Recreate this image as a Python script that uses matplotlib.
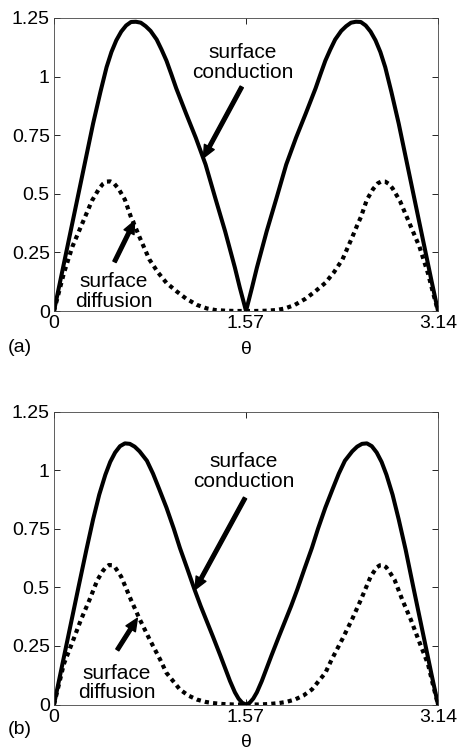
import numpy as np
import matplotlib
matplotlib.use("Agg")
import matplotlib.pyplot as plt

plt.rcParams['font.family'] = ['Liberation Sans', 'DejaVu Sans']

# === Data ===
# panel (a)
theta_cond_a = [0.00, 0.05, 0.10, 0.15, 0.20, 0.26, 0.32, 0.38, 0.43, 0.47, 0.51, 0.55, 0.59,
                0.63, 0.67, 0.71, 0.75, 0.79, 0.84, 0.88, 0.92, 0.96, 1.00, 1.08, 1.16, 1.24,
                1.32, 1.40, 1.48, 1.52, 1.571,
                1.62, 1.66, 1.74, 1.82, 1.90, 1.98, 2.06, 2.14, 2.18, 2.22, 2.26, 2.30, 2.35,
                2.39, 2.43, 2.47, 2.51, 2.55, 2.59, 2.63, 2.67, 2.71, 2.76, 2.82, 2.88, 2.94,
                2.99, 3.04, 3.09, 3.1416]
cond_a = [0, 0.125, 0.25, 0.375, 0.50, 0.65, 0.80, 0.935, 1.04, 1.105, 1.155, 1.192, 1.218,
          1.233, 1.234, 1.23, 1.215, 1.195, 1.158, 1.115, 1.068, 1.01, 0.95, 0.843, 0.739, 0.625,
          0.481, 0.34, 0.185, 0.10, 0,
          0.10, 0.185, 0.34, 0.481, 0.625, 0.739, 0.843, 0.95, 1.01, 1.068, 1.115, 1.158, 1.195,
          1.215, 1.23, 1.234, 1.233, 1.218, 1.192, 1.155, 1.105, 1.04, 0.935, 0.80, 0.65, 0.50,
          0.375, 0.25, 0.125, 0]

theta_diff_a = [0.00, 0.04, 0.08, 0.15, 0.23, 0.31, 0.37, 0.40, 0.43, 0.46, 0.49, 0.53, 0.58,
                0.63, 0.66, 0.70, 0.78, 0.85, 0.92, 1.00, 1.08, 1.17, 1.25, 1.32, 1.41, 1.50, 1.571,
                1.64, 1.73, 1.82, 1.89, 1.97, 2.06, 2.14, 2.22, 2.29, 2.36, 2.44, 2.48, 2.51,
                2.56, 2.61, 2.65, 2.68, 2.71, 2.74, 2.77, 2.83, 2.91, 2.99, 3.06, 3.10, 3.1416]
diff_a = [0, 0.08, 0.16, 0.274, 0.372, 0.47, 0.523, 0.542, 0.552, 0.553, 0.545, 0.52, 0.475,
          0.40, 0.365, 0.315, 0.22, 0.165, 0.12, 0.085, 0.053, 0.026, 0.011, 0.004, 0.001, 0, 0,
          0, 0.001, 0.004, 0.011, 0.026, 0.053, 0.085, 0.12, 0.165, 0.22, 0.315, 0.365, 0.40,
          0.475, 0.52, 0.545, 0.553, 0.552, 0.542, 0.523, 0.47, 0.372, 0.274, 0.16, 0.08, 0]

# panel (b)
theta_cond_b = [0.00, 0.05, 0.10, 0.15, 0.20, 0.265, 0.32, 0.37, 0.42, 0.46, 0.50, 0.54, 0.58,
                0.62, 0.66, 0.70, 0.76, 0.81, 0.86, 0.92, 0.98, 1.03, 1.09, 1.15, 1.20, 1.25,
                1.30, 1.36, 1.40, 1.44, 1.48, 1.51, 1.54, 1.571,
                1.60, 1.63, 1.66, 1.70, 1.74, 1.78, 1.84, 1.89, 1.94, 1.99, 2.05, 2.11, 2.16,
                2.22, 2.28, 2.33, 2.38, 2.44, 2.48, 2.52, 2.56, 2.60, 2.64, 2.68, 2.72, 2.77,
                2.82, 2.877, 2.94, 2.99, 3.04, 3.09, 3.1416]
cond_b = [0, 0.125, 0.25, 0.375, 0.50, 0.66, 0.79, 0.895, 0.98, 1.035, 1.075, 1.102, 1.114,
          1.112, 1.10, 1.08, 1.04, 0.985, 0.92, 0.84, 0.75, 0.668, 0.58, 0.49, 0.42, 0.355,
          0.29, 0.21, 0.155, 0.10, 0.052, 0.025, 0.007, 0,
          0.007, 0.025, 0.052, 0.10, 0.155, 0.21, 0.29, 0.355, 0.42, 0.49, 0.58, 0.668, 0.75,
          0.84, 0.92, 0.985, 1.04, 1.08, 1.10, 1.112, 1.114, 1.102, 1.075, 1.035, 0.98, 0.895,
          0.79, 0.66, 0.50, 0.375, 0.25, 0.125, 0]

theta_diff_b = [0.00, 0.04, 0.08, 0.15, 0.22, 0.29, 0.355, 0.40, 0.425, 0.45, 0.475, 0.50, 0.55,
                0.63, 0.70, 0.78, 0.87, 0.92, 1.03, 1.10, 1.17, 1.24, 1.30, 1.38, 1.47, 1.571,
                1.67, 1.76, 1.84, 1.90, 1.97, 2.04, 2.11, 2.22, 2.27, 2.36, 2.44, 2.51, 2.59,
                2.64, 2.667, 2.69, 2.717, 2.74, 2.787, 2.85, 2.92, 2.99, 3.06, 3.10, 3.1416]
diff_b = [0, 0.085, 0.172, 0.265, 0.361, 0.446, 0.531, 0.57, 0.586, 0.595, 0.594, 0.585, 0.545,
          0.446, 0.365, 0.28, 0.19, 0.135, 0.064, 0.038, 0.021, 0.011, 0.006, 0.002, 0, 0,
          0, 0.002, 0.006, 0.011, 0.021, 0.038, 0.064, 0.135, 0.19, 0.28, 0.365, 0.446, 0.545,
          0.585, 0.594, 0.595, 0.586, 0.57, 0.531, 0.446, 0.361, 0.265, 0.172, 0.085, 0]

xticks = [0, 1.57, 3.14]
xtick_labels = ['0', '1.57', '3.14']
yticks = [0, 0.25, 0.5, 0.75, 1, 1.25]
ytick_labels = ['0', '0.25', '0.5', '0.75', '1', '1.25']


def draw_panel(ax, th_c, v_c, th_d, v_d, txt_c, arr_c, txt_d, arr_d):
    ax.plot(th_c, v_c, color='black', lw=2.9, solid_joinstyle='round')
    ax.plot(th_d, v_d, color='black', lw=3.0, linestyle=(0, (1, 1)), dash_capstyle='butt')
    ax.set_xlim(0, np.pi)
    ax.set_ylim(0, 1.25)
    ax.set_xticks(xticks)
    ax.set_xticklabels(xtick_labels)
    ax.set_yticks(yticks)
    ax.set_yticklabels(ytick_labels)
    ax.tick_params(direction='in', top=True, right=True, length=4, width=0.6,
                   labelsize=14, pad=3)
    for sp in ax.spines.values():
        sp.set_linewidth(0.6)
        sp.set_color('#444444')
    ax.set_xlabel('θ', fontsize=14, labelpad=6)

    arrow = dict(facecolor='black', edgecolor='black', width=2.6, headwidth=8,
                 headlength=9, shrink=0)
    ax.text(txt_c[0], txt_c[1], 'surface\nconduction', fontsize=15, ha='center',
            va='center', linespacing=1.05)
    ax.annotate('', xy=arr_c[1], xytext=arr_c[0], arrowprops=arrow)
    ax.text(txt_d[0], txt_d[1], 'surface\ndiffusion', fontsize=15, ha='center',
            va='center', linespacing=1.05)
    ax.annotate('', xy=arr_d[1], xytext=arr_d[0], arrowprops=arrow)


fig = plt.figure(figsize=(4.6, 7.52), dpi=100)
W, H = 460, 752
ax_a = fig.add_axes([54 / W, (H - 311) / H, 384 / W, 293 / H])
ax_b = fig.add_axes([54 / W, (H - 704.5) / H, 384 / W, 293 / H])

draw_panel(ax_a, theta_cond_a, cond_a, theta_diff_a, diff_a,
           (1.543, 1.061), ((1.536, 0.956), (1.222, 0.653)),
           (0.487, 0.082), ((0.495, 0.210), (0.659, 0.384)))
draw_panel(ax_b, theta_cond_b, cond_b, theta_diff_b, diff_b,
           (1.555, 0.995), ((1.563, 0.881), (1.154, 0.490)),
           (0.511, 0.092), ((0.518, 0.233), (0.682, 0.368)))

fig.text(8 / W, 1 - 348 / H, '(a)', fontsize=14, va='center', ha='left')
fig.text(8 / W, 1 - 730 / H, '(b)', fontsize=14, va='center', ha='left')

fig.savefig('out.png', dpi=100)
